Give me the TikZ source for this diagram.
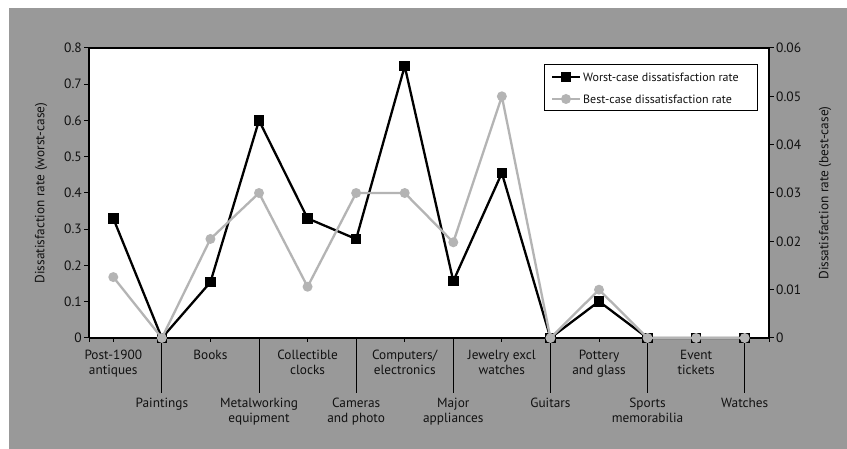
\documentclass[tikz,border=0pt]{standalone}
\usepackage{fontspec}
\setmainfont{PT Sans}
\definecolor{panelgray}{HTML}{999999}
\definecolor{bestgray}{HTML}{B4B4B4}
\definecolor{inkblack}{HTML}{111111}
\begin{document}
\begin{tikzpicture}[x=1pt,y=-1pt,
  every node/.style={text=inkblack},
  ticklabel/.style={font=\fontsize{13.5}{15}\selectfont, inner sep=0pt},
  catlabel/.style={font=\fontsize{13.3}{15}\selectfont, align=center, anchor=north, inner sep=0pt},
  axistitle/.style={font=\fontsize{13.3}{15}\selectfont, rotate=90, inner sep=0pt},
  legendtext/.style={font=\fontsize{12}{14}\selectfont, anchor=west, inner sep=0pt},
  axisline/.style={draw=black, line width=1.2pt},
  tickline/.style={draw=black, line width=1pt},
  worstline/.style={draw=black, line width=2.3pt, line join=miter, miter limit=10},
  bestline/.style={draw=bestgray, line width=2.3pt, line join=round},
  sqmark/.style={fill=black, draw=none, minimum size=10.5pt, inner sep=0pt, rectangle},
  circmark/.style={fill=bestgray, draw=none, minimum size=10pt, inner sep=0pt, circle},
]
\useasboundingbox (0,0) rectangle (847,449);
\fill[white] (0,0) rectangle (847,449);
\fill[panelgray] (9,8) rectangle (847,449);
\fill[white] (89,48) rectangle (769,338);

% plot frame and axes
\draw[axisline] (89,48) -- (769,48);
\draw[axisline] (89,48) -- (89,338);
\draw[axisline] (769,48) -- (769,338);
\draw[axisline] (89,338) -- (769,338);

% left value axis (worst case)
\foreach \v [count=\k from 0] in {0,0.1,0.2,0.3,0.4,0.5,0.6,0.7,0.8} {
  \draw[tickline] (84,{338-\k*36.25}) -- (89,{338-\k*36.25});
  \node[ticklabel, anchor=east] (yl\k) at (82,{338-\k*36.25}) {\v};
}
% right value axis (best case)
\foreach \v [count=\k from 0] in {0,0.01,0.02,0.03,0.04,0.05,0.06} {
  \draw[tickline] (769,{338-\k*48.333}) -- (774,{338-\k*48.333});
  \node[ticklabel, anchor=west] (yr\k) at (776,{338-\k*48.333}) {\v};
}

% category ticks and leader lines
\draw[tickline] (89,338) -- (89,342);
\draw[tickline] (769,338) -- (769,342);
\foreach \i in {0,2,...,12}
  \draw[tickline] ({89+48.5714*(\i+0.5)},338) -- ({89+48.5714*(\i+0.5)},342);
\foreach \i in {1,3,...,13}
  \draw[tickline] ({89+48.5714*(\i+0.5)},338) -- ({89+48.5714*(\i+0.5)},393);

% category labels, upper row
\foreach \lab [count=\j from 0] in {{Post-1900\\antiques},{Books},{Collectible\\clocks},{Computers/\\electronics},{Jewelry excl\\watches},{Pottery\\and glass},{Event\\tickets}}
  \node[catlabel] (cu\j) at ({89+48.5714*(2*\j+0.5)},349.5) {\lab};
% category labels, lower row
\foreach \lab [count=\j from 0] in {{Paintings},{Metalworking\\equipment},{Cameras\\and photo},{Major\\appliances},{Guitars},{Sports\\memorabilia},{Watches}}
  \node[catlabel] (cl\j) at ({89+48.5714*(2*\j+1.5)},397.5) {\lab};

% axis titles
\node[axistitle] (ytitleL) at (41,193) {Dissatisfaction rate (worst-case)};
\node[axistitle] (ytitleR) at (825,193) {Dissatisfaction rate (best-case)};

% data points
\foreach \v [count=\i from 0] in {0.33,0,0.154,0.6,0.33,0.273,0.75,0.157,0.455,0,0.101,0,0,0}
  \coordinate (w\i) at ({89+48.5714*(\i+0.5)},{338-\v*362.5});
\foreach \v [count=\i from 0] in {0.0126,0,0.0205,0.03,0.0106,0.03,0.03,0.0198,0.05,0,0.01,0,0,0}
  \coordinate (b\i) at ({89+48.5714*(\i+0.5)},{338-\v*4833.33});

% worst-case series
\draw[worstline] (w0) \foreach \i in {1,...,13} { -- (w\i) };
\foreach \i in {0,...,13}
  \node[sqmark] (mw\i) at (w\i) {};
% best-case series
\draw[bestline] (b0) \foreach \i in {1,...,13} { -- (b\i) };
\foreach \i in {0,...,13}
  \node[circmark] (mb\i) at (b\i) {};

% legend
\draw[black, line width=0.8pt, fill=white] (544,64) rectangle (757,110);
\coordinate (lwa) at (552,77);
\coordinate (lwb) at (580,77);
\coordinate (lba) at (552,99);
\coordinate (lbb) at (580,99);
\draw[worstline] (lwa) -- (lwb);
\node[sqmark] (lwm) at (566,77) {};
\draw[bestline] (lba) -- (lbb);
\node[circmark] (lbm) at (566,99) {};
\node[legendtext] (lwt) at (583,77) {Worst-case dissatisfaction rate};
\node[legendtext] (lbt) at (583,99) {Best-case dissatisfaction rate};
\end{tikzpicture}
\end{document}
